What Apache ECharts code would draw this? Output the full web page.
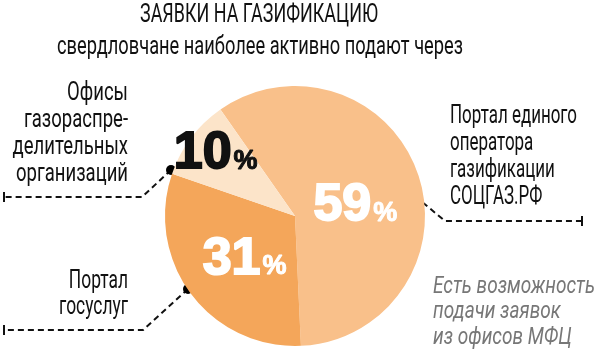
<!DOCTYPE html>
<html>
<head>
<meta charset="utf-8">
<script src="https://cdn.jsdelivr.net/npm/echarts@6/dist/echarts.min.js"></script>
<style>html,body{margin:0;padding:0;background:#fff}#c{width:600px;height:360px}</style>
</head>
<body>
<div id="c"></div>
<script>
const categories = ['Портал единого оператора газификации СОЦГАЗ.РФ', 'Портал госуслуг', 'Офисы газораспределительных организаций'];
const values = [59, 31, 10];
const colors = ['#F9C08A', '#F4A65A', '#FCE4C9'];
const labelColors = ['#ffffff', '#ffffff', '#111111'];

const FONT = "Roboto, 'Noto Sans', sans-serif";
const HEAVY = "'Liberation Sans', Arial, sans-serif";
const chart = echarts.init(document.getElementById('c'), null, {renderer: 'canvas'});

const mctx = document.createElement('canvas').getContext('2d');
function measure(txt, size, style) {
  mctx.font = (style || '') + ' ' + size + 'px ' + FONT;
  return mctx.measureText(txt).width;
}

const offsets = [[-4, 12], [4, 3], [-25, -21]];
const data = values.map((v, i) => ({
  name: categories[i],
  value: v,
  itemStyle: {color: colors[i]},
  label: {
    offset: offsets[i],
    rich: {
      n: {fontFamily: HEAVY, fontWeight: 'bold', fontSize: 52, color: labelColors[i],
          textBorderColor: labelColors[i], textBorderWidth: 2},
      p: {fontFamily: HEAVY, fontWeight: 'bold', fontSize: 27, color: labelColors[i],
          textBorderColor: labelColors[i], textBorderWidth: 1, padding: [14, 0, 0, 2]}
    }
  }
}));

function leader(points) {
  const end = points[points.length - 1];
  return [
    {type: 'polyline', shape: {points: points}, style: {stroke: '#111', lineWidth: 2, lineDash: [6, 4], fill: null}},
    {type: 'circle', shape: {cx: points[0][0], cy: points[0][1], r: 5}, style: {fill: '#000'}},
    {type: 'line', shape: {x1: end[0], y1: end[1] - 5, x2: end[0], y2: end[1] + 5}, style: {stroke: '#111', lineWidth: 2}}
  ];
}

// condensed text: scale horizontally so that reference line refIdx gets width refW
function textBlock(x, y, lines, align, size, lh, refIdx, refW, opts) {
  opts = opts || {};
  const sc = refW / measure(lines[refIdx], size, opts.fontStyle);
  return {
    type: 'text', x: x, y: y, scaleX: sc,
    style: Object.assign({
      text: lines.join('\n'), align: align, verticalAlign: lines.length > 1 ? 'top' : 'middle',
      fontFamily: FONT, fontSize: size, lineHeight: lh, fill: '#111'
    }, opts)
  };
}

chart.setOption({
  animation: false,
  series: [{
    type: 'pie',
    center: [295, 216],
    radius: [0, 130],
    startAngle: 125,
    clockwise: true,
    silent: true,
    data: data,
    label: {
      show: true,
      position: 'inside',
      formatter: p => '{n|' + p.value + '}{p|%}'
    },
    labelLine: {show: false}
  }],
  graphic: [
    ...leader([[171, 170], [142, 197], [4, 197]]),
    ...leader([[188, 289], [143, 330], [4, 330]]),
    ...leader([[415, 196], [445, 221], [582, 221]]),
    textBlock(259, 16, ['ЗАЯВКИ НА ГАЗИФИКАЦИЮ'], 'center', 25, 30, 0, 238),
    textBlock(260, 48, ['свердловчане наиболее активно подают через'], 'center', 25, 30, 0, 406),
    textBlock(128, 80, ['Офисы', 'газораспре-', 'делительных', 'организаций'], 'right', 25, 27, 3, 112),
    textBlock(128, 268, ['Портал', 'госуслуг'], 'right', 25, 26.5, 1, 69),
    textBlock(450, 103, ['Портал единого', 'оператора', 'газификации', 'СОЦГАЗ.РФ'], 'left', 25, 27, 0, 127),
    textBlock(433, 274, ['Есть возможность', 'подачи заявок', 'из офисов МФЦ'], 'left', 24, 25.5, 0, 162,
      {fill: '#777', fontStyle: 'italic'})
  ]
});
</script>
</body>
</html>
